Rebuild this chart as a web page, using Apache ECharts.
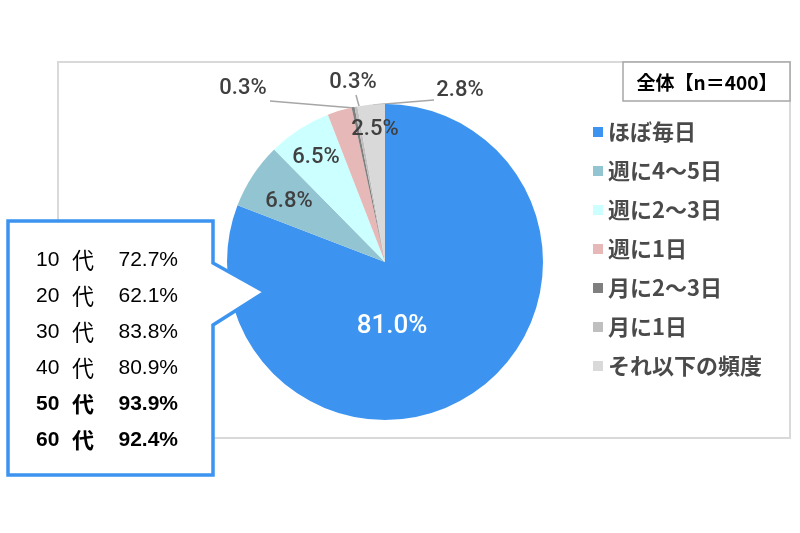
<!DOCTYPE html>
<html>
<head>
<meta charset="utf-8">
<script src="https://cdn.jsdelivr.net/npm/echarts@6/dist/echarts.min.js"></script>
<style>html,body{margin:0;padding:0;background:#fff;}#c{width:800px;height:533px;}</style>
</head>
<body>
<div id="c"></div>
<script>
// ---- data ----
const categories = ['ほぼ毎日', '週に4〜5日', '週に2〜3日', '週に1日', '月に2〜3日', '月に1日', 'それ以下の頻度'];
const shares = [81.0, 6.8, 6.5, 2.5, 0.3, 0.3, 2.8];
const ageGroups = ['10', '20', '30', '40', '50', '60'];
const ageSuffix = '代';
const ageDaily = [72.7, 62.1, 83.8, 80.9, 93.9, 92.4];
const titleText = '全体【n＝400】';

// ---- styles / layout ----
const colors = ['#3d94f0', '#92c4d2', '#ccffff', '#e6b8b7', '#7f7f7f', '#bfbfbf', '#d9d9d9'];
const pieCenter = [385, 262], pieRadius = 158;
const labelPos = [[392, 326], [289, 201], [316, 157], [375, 129], [243, 88], [353, 82], [460, 90]];
const labelLines = {
  4: [[355, 108], [342, 107], [270, 101]],
  5: [[359, 106], [356, 95]],
  6: [[373, 105], [434, 100]]
};
const boldRows = [4, 5];
const numFont = '"Liberation Sans", Arial, "Noto Sans CJK JP", sans-serif';
const lblFont = 'Roboto, "Liberation Sans", sans-serif';
const jpFont = '"Noto Sans CJK JP", sans-serif';

const pieData = categories.map((name, i) => {
  const outside = i >= 4;
  return {
    name, value: shares[i],
    itemStyle: { color: colors[i] },
    label: {
      position: outside ? 'outside' : 'inside',
      color: i === 0 ? '#ffffff' : '#404040',
      fontSize: i === 0 ? 26 : 22
    },
    labelLine: { show: outside }
  };
});

const graphics = [
  { type: 'rect', z: 0, shape: { x: 58, y: 62, width: 732, height: 376 },
    style: { fill: 'none', stroke: '#d9d9d9', lineWidth: 2 } },
  { type: 'rect', z: 10, shape: { x: 623, y: 62, width: 167, height: 39 },
    style: { fill: '#fff', stroke: '#a6a6a6', lineWidth: 1.5 } },
  { type: 'text', z: 11, x: 707, y: 83,
    style: { text: titleText, fill: '#000', font: 'bold 19px ' + jpFont, textAlign: 'center', textVerticalAlign: 'middle' } },
  { type: 'polygon', z: 20,
    shape: { points: [[8, 221], [213, 221], [213, 263], [265, 292], [213, 325], [213, 475], [8, 475]] },
    style: { fill: '#fff', stroke: '#3d94f0', lineWidth: 3.5, lineJoin: 'miter' } }
];
ageGroups.forEach((g, i) => {
  const y = 260 + i * 36;
  const bold = boldRows.indexOf(i) >= 0 ? 'bold ' : '';
  graphics.push({ type: 'text', z: 21, x: 36, y,
    style: { text: g, fill: '#000', font: bold + '21px ' + numFont, textAlign: 'left', textVerticalAlign: 'middle' } });
  graphics.push({ type: 'text', z: 21, x: 72, y,
    style: { text: ageSuffix, fill: '#000', font: bold + '22px ' + jpFont, textAlign: 'left', textVerticalAlign: 'middle' } });
  graphics.push({ type: 'text', z: 21, x: 178, y,
    style: { text: ageDaily[i].toFixed(1) + '%', fill: '#000', font: bold + '21px ' + numFont, textAlign: 'right', textVerticalAlign: 'middle' } });
});

const chart = echarts.init(document.getElementById('c'), null, { renderer: 'canvas' });
chart.setOption({
  animation: false,
  backgroundColor: '#fff',
  legend: {
    orient: 'vertical', left: 593, top: 120, padding: 0,
    icon: 'rect', itemWidth: 10, itemHeight: 10, itemGap: 15,
    data: categories,
    textStyle: { fontFamily: jpFont, fontSize: 22, fontWeight: 'bold', color: '#4a4a4a', lineHeight: 24 }
  },
  series: [{
    type: 'pie',
    center: pieCenter, radius: pieRadius,
    startAngle: 90, clockwise: true,
    avoidLabelOverlap: false,
    label: {
      show: true,
      formatter: p => p.value.toFixed(1) + '%',
      fontFamily: lblFont,
      fontWeight: 500
    },
    labelLine: { lineStyle: { color: '#a6a6a6', width: 1.5 }, length: 10, length2: 20 },
    labelLayout: p => {
      const pos = labelPos[p.dataIndex];
      const out = { x: pos[0], y: pos[1], align: 'center', verticalAlign: 'middle' };
      if (labelLines[p.dataIndex]) out.labelLinePoints = labelLines[p.dataIndex];
      return out;
    },
    emphasis: { disabled: true },
    data: pieData
  }],
  graphic: graphics
});
</script>
</body>
</html>
